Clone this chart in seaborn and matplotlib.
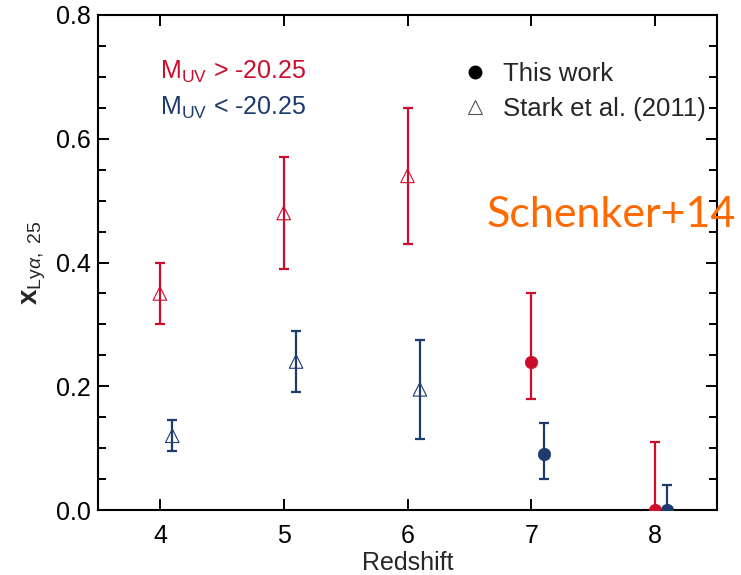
import matplotlib
matplotlib.use("Agg")
import matplotlib.pyplot as plt
from matplotlib.lines import Line2D
from matplotlib.ticker import MultipleLocator
import numpy as np
import pandas as pd
import seaborn as sns

# Lyman-alpha fraction measurements by redshift and UV luminosity bin
redshift = [4.0, 5.0, 6.0, 4.1, 5.1, 6.1, 7.0, 7.1, 8.0, 8.1]
x_lya = [0.35, 0.48, 0.54, 0.12, 0.24, 0.195, 0.24, 0.09, 0.0, 0.0]
err_lo = [0.05, 0.09, 0.11, 0.025, 0.05, 0.08, 0.06, 0.04, 0.0, 0.0]
err_hi = [0.05, 0.09, 0.11, 0.025, 0.05, 0.08, 0.11, 0.05, 0.11, 0.04]
muv_bin = ["faint", "faint", "faint", "bright", "bright", "bright",
           "faint", "bright", "faint", "bright"]
source = ["Stark et al. (2011)"] * 6 + ["This work"] * 4

bin_labels = {"faint": r"M$_{\mathrm{UV}}$ > -20.25",
              "bright": r"M$_{\mathrm{UV}}$ < -20.25"}

df = pd.DataFrame({"z": redshift, "x": x_lya, "lo": err_lo, "hi": err_hi,
                   "bin": muv_bin, "source": source})

RED = "#CC0E2C"
BLUE = "#1D3B6C"
colors = {"faint": RED, "bright": BLUE}

sns.set_theme(style="ticks")
plt.rcParams["font.family"] = ["Liberation Sans", "DejaVu Sans"]
plt.rcParams["mathtext.fontset"] = "custom"
plt.rcParams["mathtext.rm"] = "Liberation Sans"
plt.rcParams["mathtext.it"] = "Liberation Sans:italic"
plt.rcParams["mathtext.bf"] = "Liberation Sans:bold"

fig = plt.figure(figsize=(7.41, 5.75), dpi=100)
ax = fig.add_axes([98 / 741, 65 / 575, (717 - 98) / 741, (510 - 15) / 575])

# error bars
for b, sub in df.groupby("bin"):
    ax.errorbar(sub["z"], sub["x"], yerr=[sub["lo"], sub["hi"]], fmt="none",
                ecolor=colors[b], elinewidth=1.6, capsize=3.5, capthick=1.6,
                zorder=2)

# markers: filled circles for this work, open triangles for Stark et al.
stark = df[df["source"] == "Stark et al. (2011)"]
this = df[df["source"] == "This work"]
for b in ["faint", "bright"]:
    s = stark[stark["bin"] == b]
    sns.scatterplot(x=s["z"], y=s["x"], ax=ax, marker="^", s=95,
                    facecolor="none", edgecolor=colors[b], linewidth=0.8,
                    zorder=3, legend=False)
    t = this[this["bin"] == b]
    sns.scatterplot(x=t["z"], y=t["x"], ax=ax, marker="o", s=80,
                    color=colors[b], edgecolor=colors[b], linewidth=0.5,
                    zorder=3, legend=False)

ax.set_xlim(3.5, 8.5)
ax.set_ylim(0.0, 0.8)
ax.set_xticks([4, 5, 6, 7, 8])
ax.set_yticks([0.0, 0.2, 0.4, 0.6, 0.8])
ax.set_yticklabels(["0.0", "0.2", "0.4", "0.6", "0.8"])
ax.yaxis.set_minor_locator(MultipleLocator(0.05))

for sp in ax.spines.values():
    sp.set_linewidth(1.5)
    sp.set_color("black")
ax.tick_params(axis="both", which="both", direction="in", top=True,
               right=True, color="black", width=1.4, labelsize=18,
               labelcolor="black")
ax.tick_params(axis="both", which="major", length=8)
ax.tick_params(axis="y", which="minor", length=5.5)
ax.tick_params(axis="x", which="major", pad=10)
ax.tick_params(axis="y", which="major", pad=5)

ax.set_xlabel("Redshift", fontsize=18, labelpad=2)
ax.set_ylabel(r"$\mathbf{x}_{\mathrm{Ly}\alpha\mathrm{,\ 25}}$", fontsize=20,
              labelpad=6)

# luminosity bin labels
ax.text(0.1, 0.885, bin_labels["faint"], transform=ax.transAxes, color=RED,
        fontsize=18, va="center", ha="left")
ax.text(0.1, 0.812, bin_labels["bright"], transform=ax.transAxes, color=BLUE,
        fontsize=18, va="center", ha="left")

# data source legend
handles = [
    Line2D([], [], marker="o", color="black", linestyle="none", markersize=9),
    Line2D([], [], marker="^", markerfacecolor="white",
           markeredgecolor="#555555", markeredgewidth=0.8, linestyle="none",
           markersize=10),
]
ax.legend(handles, ["This work", "Stark et al. (2011)"], loc="upper left",
          bbox_to_anchor=(0.571, 0.925), frameon=False, fontsize=18.5,
          handlelength=1.0, handletextpad=0.6, labelspacing=0.4,
          borderaxespad=0.0)

fig.text(487 / 741, 1 - 215 / 575, "Schenker+14", color="#FF6A00",
         fontsize=31, family=["Lato", "DejaVu Sans"], va="center", ha="left")

fig.savefig("out.png", dpi=100)
